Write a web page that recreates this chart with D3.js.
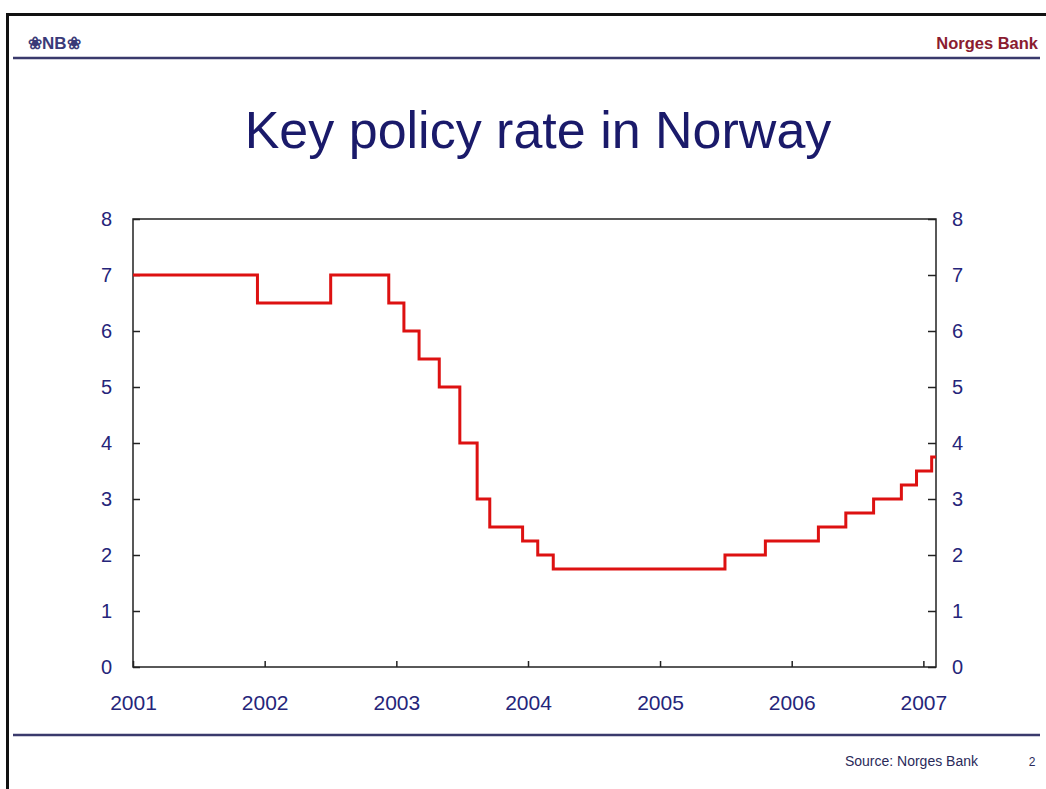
<!DOCTYPE html>
<html>
<head>
<meta charset="utf-8">
<script src="https://cdn.jsdelivr.net/npm/d3@7"></script>
<style>
  body { margin: 0; background: #fff; }
  text { font-family: "Liberation Sans", Arial, sans-serif; }
</style>
</head>
<body>
<div id="chart"></div>
<script>
const width = 1046
const height = 789
const margin = { top: 219, bottom: 122, left: 133, right: 110 }

// key policy rate, date of change and new rate
const changeDates = ["2001-01-01", "2001-12-12", "2002-07-03", "2002-12-11", "2003-01-22", "2003-03-05",
    "2003-04-30", "2003-06-26", "2003-08-13", "2003-09-17", "2003-12-17", "2004-01-28", "2004-03-11",
    "2005-06-30", "2005-10-20", "2006-03-16", "2006-05-31", "2006-08-16", "2006-11-01", "2006-12-13",
    "2007-01-24", "2007-02-05"]
const rates = [7, 6.5, 7, 6.5, 6, 5.5, 5, 4, 3, 2.5, 2.25, 2, 1.75, 2, 2.25, 2.5, 2.75, 3, 3.25, 3.5, 3.75, 3.75]
const yearTicks = [2001, 2002, 2003, 2004, 2005, 2006, 2007]
const rateTicks = [0, 1, 2, 3, 4, 5, 6, 7, 8]

const parse = d3.timeParse("%Y-%m-%d")
const data = changeDates.map((d, i) => ({ date: parse(d), rate: rates[i] }))

const navy = "#25257a"
const svg = d3.select("div#chart").append("svg").attr("width", width).attr("height", height)

// slide frame and header/footer
svg.append("rect").attr("x", 7.5).attr("y", 14.5).attr("width", 1060).attr("height", 800)
    .attr("fill", "none").attr("stroke", "#111").attr("stroke-width", 3)
svg.append("line").attr("x1", 13).attr("x2", 1040).attr("y1", 58).attr("y2", 58)
    .attr("stroke", "#3a3a6c").attr("stroke-width", 2.5)
svg.append("line").attr("x1", 13).attr("x2", 1040).attr("y1", 735).attr("y2", 735)
    .attr("stroke", "#3a3a6c").attr("stroke-width", 2.5)
svg.append("text").text("\u2740NB\u2740").attr("x", 28).attr("y", 49)
    .attr("font-size", 17).attr("font-weight", "bold").attr("fill", "#3a3a78")
svg.append("text").text("Norges Bank").attr("x", 1038).attr("y", 49).attr("text-anchor", "end")
    .attr("font-size", 16.5).attr("font-weight", "bold").attr("fill", "#8a1c30")
svg.append("text").text("Source: Norges Bank").attr("x", 978).attr("y", 766).attr("text-anchor", "end")
    .attr("font-size", 14).attr("fill", "#2a2a5a")
svg.append("text").text("2").attr("x", 1032).attr("y", 766).attr("text-anchor", "middle")
    .attr("font-size", 12).attr("fill", "#2a2a5a")
svg.append("text").text("Key policy rate in Norway").attr("x", 538).attr("y", 148).attr("text-anchor", "middle")
    .attr("font-size", 52).attr("fill", "#1a1a6a")

const innerW = width - margin.left - margin.right
const innerH = height - margin.top - margin.bottom

const x = d3.scaleTime().domain([parse("2001-01-01"), parse("2007-02-05")]).range([0, innerW])
const y = d3.scaleLinear().domain([0, 8]).range([innerH, 0])

const g = svg.append("g").attr("transform", `translate(${margin.left}, ${margin.top})`)

g.append("rect").attr("width", innerW).attr("height", innerH)
    .attr("fill", "none").attr("stroke", "#222").attr("stroke-width", 1.5)

const xAxis = d3.axisBottom(x).tickValues(yearTicks.map(yr => new Date(yr, 0, 1)))
    .tickFormat(d3.timeFormat("%Y")).tickSizeInner(-6).tickSizeOuter(0).tickPadding(28)
const yLeft = d3.axisLeft(y).tickValues(rateTicks).tickFormat(d3.format("d"))
    .tickSizeInner(-7).tickSizeOuter(0).tickPadding(21)
const yRight = d3.axisRight(y).tickValues(rateTicks).tickFormat(d3.format("d"))
    .tickSizeInner(-8).tickSizeOuter(0).tickPadding(16)

const styleAxis = size => sel => {
    sel.select(".domain").remove()
    sel.selectAll("line").attr("stroke", "#222").attr("stroke-width", 1.5)
    sel.selectAll("text").attr("font-size", size).attr("fill", navy)
        .style("font-family", "'Liberation Sans', Arial, sans-serif")
}

g.append("g").attr("transform", `translate(0, ${innerH})`).call(xAxis).call(styleAxis(21))
g.append("g").call(yLeft).call(styleAxis(20))
g.append("g").attr("transform", `translate(${innerW}, 0)`).call(yRight).call(styleAxis(20))

const line = d3.line().x(d => x(d.date)).y(d => y(d.rate)).curve(d3.curveStepAfter)
g.append("path").datum(data).attr("d", line)
    .attr("fill", "none").attr("stroke", "#dd1111").attr("stroke-width", 3)
</script>
</body>
</html>
